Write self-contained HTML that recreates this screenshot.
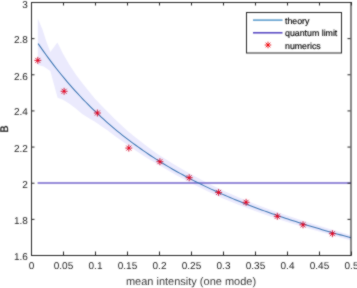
<!DOCTYPE html>
<html><head><meta charset="utf-8"><style>
html,body{margin:0;padding:0;background:#fff;width:357px;height:288px;overflow:hidden}
svg{display:block}
</style></head><body>
<svg width="357" height="288" viewBox="0 0 357 288" text-rendering="geometricPrecision">
<defs><filter id="bl" filterUnits="userSpaceOnUse" x="0" y="0" width="357" height="288" color-interpolation-filters="sRGB"><feConvolveMatrix order="3" kernelMatrix="1 2 1 2 14 2 1 2 1" divisor="26" edgeMode="duplicate"/></filter></defs>
<g filter="url(#bl)">
<rect width="357" height="288" fill="#fff"/>
<path d="M37.8,18.4 L42.5,29.5 L46.0,40.5 L50.3,52.0 L57.4,42.4 L63.0,53.8 L69.4,64.8 L75.8,74.5 L82.2,82.9 L88.6,90.9 L95.0,98.7 L101.4,105.4 L107.8,112.0 L114.2,118.4 L120.6,124.6 L127.0,130.5 L133.4,135.8 L139.8,140.8 L146.2,145.7 L152.6,150.4 L159.0,154.9 L159.0,154.9 L175.0,165.0 L191.0,174.3 L207.0,182.7 L223.0,190.5 L239.0,197.4 L255.0,203.9 L271.0,209.9 L287.0,215.5 L303.0,220.8 L319.0,225.8 L335.0,230.6 L351.0,235.2 L351.0,240.4 L335.0,236.1 L319.0,231.6 L303.0,226.9 L287.0,221.9 L271.0,216.7 L255.0,211.1 L239.0,205.0 L223.0,198.5 L207.0,191.1 L191.0,183.1 L175.0,174.4 L159.0,165.1 L159.0,165.1 L152.6,161.3 L146.2,157.4 L139.8,153.2 L133.4,148.9 L127.0,144.4 L120.6,140.0 L114.2,135.4 L107.8,130.5 L101.4,126.2 L95.0,121.8 L88.6,117.9 L82.2,113.9 L75.8,108.5 L69.4,103.8 L63.0,99.8 L57.6,97.7 L50.3,71.0 L43.8,66.5 L37.8,65.0 Z" fill="#ebeafd" stroke="none"/>
<path d="M37.6,182.9H351" stroke="#7566cc" stroke-width="1.5" fill="none"/>
<path d="M38.10,43.62 L40.73,47.42 L43.36,51.15 L45.99,54.80 L48.62,58.38 L51.25,61.89 L53.88,65.33 L56.51,68.70 L59.14,72.01 L61.76,75.25 L64.39,78.43 L67.02,81.55 L69.65,84.61 L72.28,87.60 L74.91,90.55 L77.54,93.43 L80.17,96.26 L82.80,99.04 L85.43,101.76 L88.06,104.44 L90.69,107.06 L93.32,109.64 L95.95,112.16 L98.58,114.64 L101.21,117.08 L103.84,119.47 L106.46,121.82 L109.09,124.12 L111.72,126.39 L114.35,128.61 L116.98,130.79 L119.61,132.94 L122.24,135.04 L124.87,137.11 L127.50,139.15 L130.13,141.14 L132.76,143.11 L135.39,145.04 L138.02,146.94 L140.65,148.80 L143.28,150.64 L145.91,152.44 L148.54,154.21 L151.16,155.96 L153.79,157.67 L156.42,159.36 L159.05,161.02 L161.68,162.65 L164.31,164.26 L166.94,165.84 L169.57,167.40 L172.20,168.93 L174.83,170.44 L177.46,171.93 L180.09,173.39 L182.72,174.83 L185.35,176.25 L187.98,177.65 L190.61,179.03 L193.24,180.38 L195.86,181.72 L198.49,183.04 L201.12,184.34 L203.75,185.62 L206.38,186.88 L209.01,188.13 L211.64,189.36 L214.27,190.57 L216.90,191.77 L219.53,192.94 L222.16,194.11 L224.79,195.26 L227.42,196.39 L230.05,197.51 L232.68,198.61 L235.31,199.70 L237.94,200.78 L240.56,201.84 L243.19,202.90 L245.82,203.93 L248.45,204.96 L251.08,205.97 L253.71,206.97 L256.34,207.96 L258.97,208.94 L261.60,209.91 L264.23,210.87 L266.86,211.81 L269.49,212.75 L272.12,213.68 L274.75,214.59 L277.38,215.50 L280.01,216.40 L282.64,217.29 L285.26,218.16 L287.89,219.03 L290.52,219.90 L293.15,220.75 L295.78,221.60 L298.41,222.43 L301.04,223.26 L303.67,224.08 L306.30,224.90 L308.93,225.71 L311.56,226.51 L314.19,227.30 L316.82,228.09 L319.45,228.87 L322.08,229.64 L324.71,230.41 L327.34,231.17 L329.96,231.92 L332.59,232.67 L335.22,233.41 L337.85,234.15 L340.48,234.88 L343.11,235.61 L345.74,236.33 L348.37,237.05 L351.00,237.76" stroke="#3a74b2" stroke-width="1.05" fill="none"/>
<path d="M34.30,60.40L41.30,60.40M35.33,57.93L40.27,62.87M37.80,56.90L37.80,63.90M40.27,57.93L35.33,62.87" stroke="#d40c2a" stroke-width="0.9" fill="none"/><circle cx="37.8" cy="60.4" r="1.0" fill="#f0001c"/><path d="M60.60,91.30L67.60,91.30M61.63,88.83L66.57,93.77M64.10,87.80L64.10,94.80M66.57,88.83L61.63,93.77" stroke="#d40c2a" stroke-width="0.9" fill="none"/><circle cx="64.1" cy="91.3" r="1.0" fill="#f0001c"/><path d="M93.90,113.00L100.90,113.00M94.93,110.53L99.87,115.47M97.40,109.50L97.40,116.50M99.87,110.53L94.93,115.47" stroke="#d40c2a" stroke-width="0.9" fill="none"/><circle cx="97.4" cy="113.0" r="1.0" fill="#f0001c"/><path d="M125.30,148.10L132.30,148.10M126.33,145.63L131.27,150.57M128.80,144.60L128.80,151.60M131.27,145.63L126.33,150.57" stroke="#d40c2a" stroke-width="0.9" fill="none"/><circle cx="128.8" cy="148.1" r="1.0" fill="#f0001c"/><path d="M156.40,161.70L163.40,161.70M157.43,159.23L162.37,164.17M159.90,158.20L159.90,165.20M162.37,159.23L157.43,164.17" stroke="#d40c2a" stroke-width="0.9" fill="none"/><circle cx="159.9" cy="161.7" r="1.0" fill="#f0001c"/><path d="M185.70,177.70L192.70,177.70M186.73,175.23L191.67,180.17M189.20,174.20L189.20,181.20M191.67,175.23L186.73,180.17" stroke="#d40c2a" stroke-width="0.9" fill="none"/><circle cx="189.2" cy="177.7" r="1.0" fill="#f0001c"/><path d="M215.10,192.40L222.10,192.40M216.13,189.93L221.07,194.87M218.60,188.90L218.60,195.90M221.07,189.93L216.13,194.87" stroke="#d40c2a" stroke-width="0.9" fill="none"/><circle cx="218.6" cy="192.4" r="1.0" fill="#f0001c"/><path d="M242.60,202.30L249.60,202.30M243.63,199.83L248.57,204.77M246.10,198.80L246.10,205.80M248.57,199.83L243.63,204.77" stroke="#d40c2a" stroke-width="0.9" fill="none"/><circle cx="246.1" cy="202.3" r="1.0" fill="#f0001c"/><path d="M273.80,216.30L280.80,216.30M274.83,213.83L279.77,218.77M277.30,212.80L277.30,219.80M279.77,213.83L274.83,218.77" stroke="#d40c2a" stroke-width="0.9" fill="none"/><circle cx="277.3" cy="216.3" r="1.0" fill="#f0001c"/><path d="M299.50,224.80L306.50,224.80M300.53,222.33L305.47,227.27M303.00,221.30L303.00,228.30M305.47,222.33L300.53,227.27" stroke="#d40c2a" stroke-width="0.9" fill="none"/><circle cx="303.0" cy="224.8" r="1.0" fill="#f0001c"/><path d="M328.90,233.70L335.90,233.70M329.93,231.23L334.87,236.17M332.40,230.20L332.40,237.20M334.87,231.23L329.93,236.17" stroke="#d40c2a" stroke-width="0.9" fill="none"/><circle cx="332.4" cy="233.7" r="1.0" fill="#f0001c"/>
<g fill="none" stroke="#262626" stroke-width="1">
<path d="M31.5,255.5V2.5H351M31,255.5H351.5"/><path d="M351,2V256" stroke-width="1.1"/>
<path d="M31.5,255V251.5 M31.5,2V5.5 M63.5,255V251.5 M63.5,2V5.5 M95.5,255V251.5 M95.5,2V5.5 M127.5,255V251.5 M127.5,2V5.5 M159.5,255V251.5 M159.5,2V5.5 M191.5,255V251.5 M191.5,2V5.5 M223.5,255V251.5 M223.5,2V5.5 M255.5,255V251.5 M255.5,2V5.5 M287.5,255V251.5 M287.5,2V5.5 M319.5,255V251.5 M319.5,2V5.5 M351.5,255V251.5 M351.5,2V5.5 M31,255.50H34.5 M350.5,255.50H347.5 M31,219.36H34.5 M350.5,219.36H347.5 M31,183.21H34.5 M350.5,183.21H347.5 M31,147.07H34.5 M350.5,147.07H347.5 M31,110.93H34.5 M350.5,110.93H347.5 M31,74.79H34.5 M350.5,74.79H347.5 M31,38.64H34.5 M350.5,38.64H347.5 M31,2.50H34.5 M350.5,2.50H347.5"/>
</g>
<g font-family="Liberation Sans, sans-serif" font-size="10" fill="#1a1a1a">
<text x="27.8" y="260" text-anchor="end">1.6</text><text x="27.8" y="224" text-anchor="end">1.8</text><text x="27.8" y="188" text-anchor="end">2</text><text x="27.8" y="152" text-anchor="end">2.2</text><text x="27.8" y="115" text-anchor="end">2.4</text><text x="27.8" y="80" text-anchor="end">2.6</text><text x="27.8" y="43" text-anchor="end">2.8</text><text x="27.8" y="8" text-anchor="end">3</text>
<text x="31.50" y="269" text-anchor="middle">0</text><text x="63.50" y="269" text-anchor="middle">0.05</text><text x="95.50" y="269" text-anchor="middle">0.1</text><text x="127.50" y="269" text-anchor="middle">0.15</text><text x="159.50" y="269" text-anchor="middle">0.2</text><text x="191.50" y="269" text-anchor="middle">0.25</text><text x="223.50" y="269" text-anchor="middle">0.3</text><text x="255.50" y="269" text-anchor="middle">0.35</text><text x="287.50" y="269" text-anchor="middle">0.4</text><text x="319.50" y="269" text-anchor="middle">0.45</text><text x="351.50" y="269" text-anchor="middle">0.5</text>
</g>
<g font-family="Liberation Sans, sans-serif" font-size="11" fill="#1a1a1a">
<text x="191" y="285" text-anchor="middle" fill="#3a3a3a">mean intensity (one mode)</text>
<text transform="translate(7.8,129) rotate(-90)" text-anchor="middle" stroke="#1a1a1a" stroke-width="0.3">B</text>
</g>
<rect x="246.5" y="12.5" width="95" height="40.5" fill="#fff" stroke="#262626" stroke-width="1"/>
<path d="M253,20.1H282.5" stroke="#3a88c4" stroke-width="1.3"/>
<path d="M253,32.8H282.5" stroke="#5040c0" stroke-width="1.5"/>
<path d="M264.70,45.00L271.30,45.00M265.67,42.67L270.33,47.33M268.00,41.70L268.00,48.30M270.33,42.67L265.67,47.33" stroke="#e8101a" stroke-width="0.9" fill="none"/><circle cx="268.0" cy="45" r="1.0" fill="#ff0000"/>
<g font-family="Liberation Sans, sans-serif" font-size="8.8" fill="#000" stroke="#000" stroke-width="0.15">
<text x="285" y="24.2">theory</text>
<text x="285" y="35.9">quantum limit</text>
<text x="285" y="48.8">numerics</text>
</g>
</g>
</svg>
</body></html>
